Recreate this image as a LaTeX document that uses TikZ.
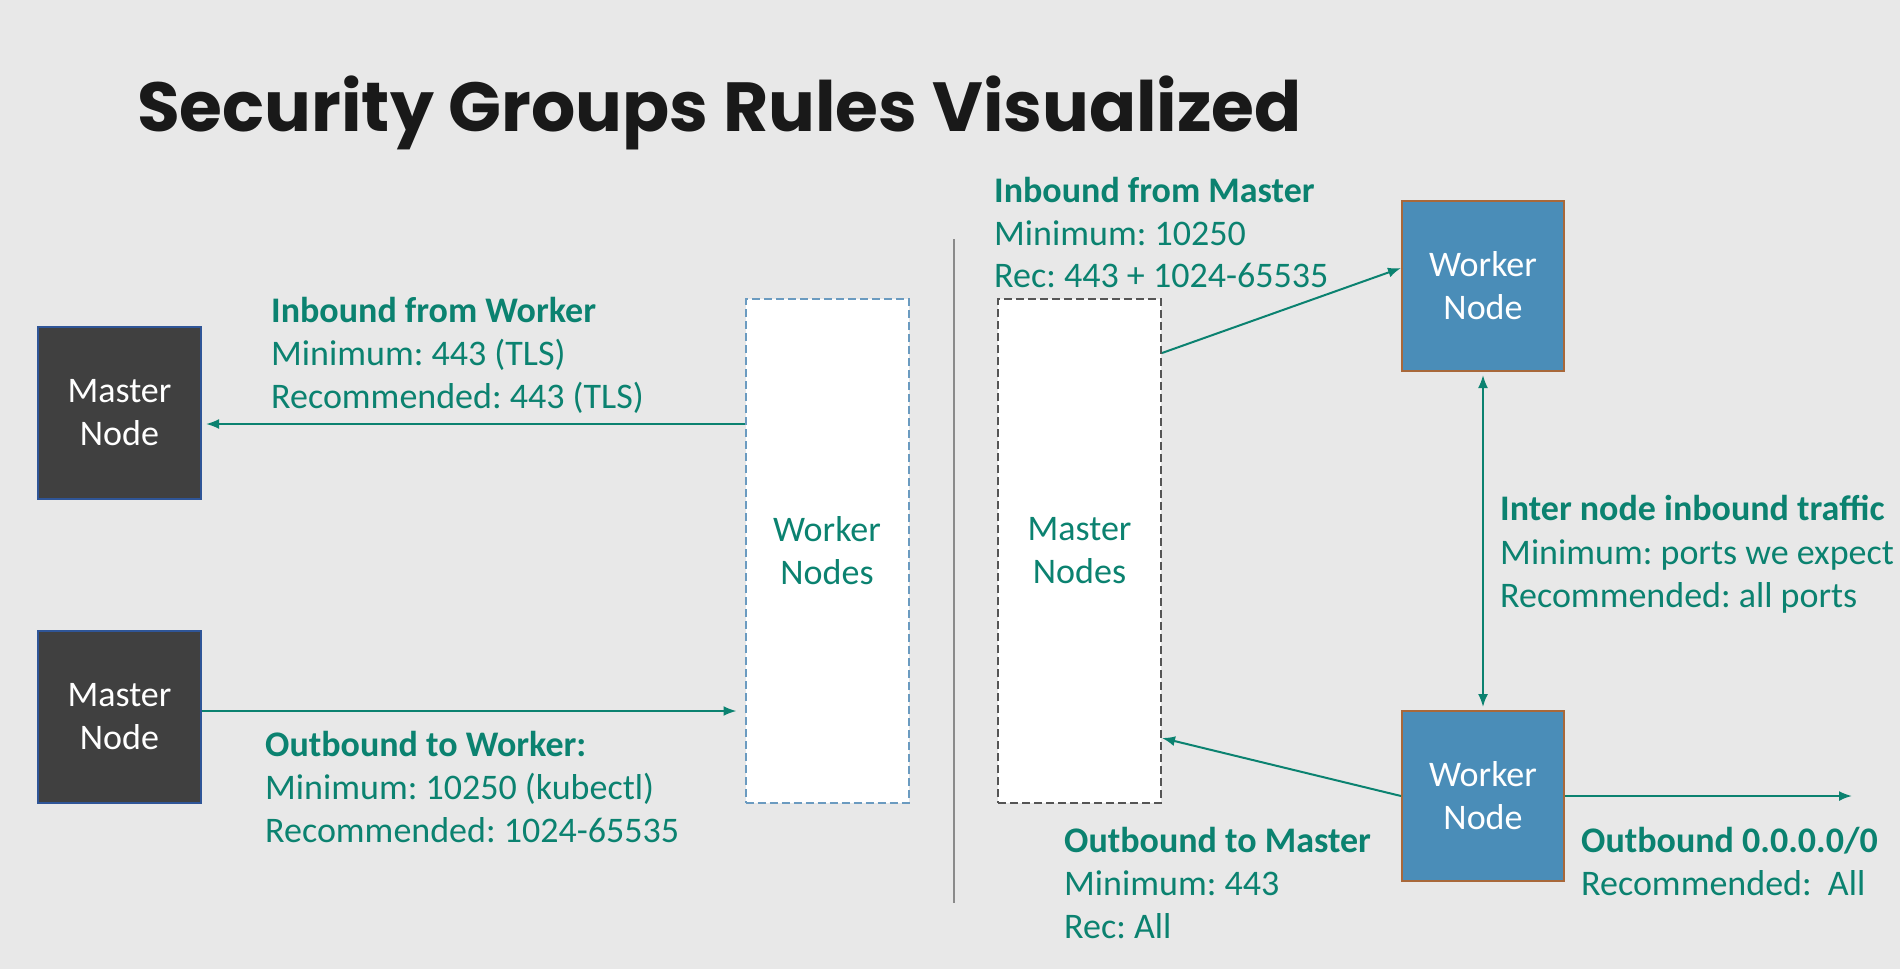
\documentclass[tikz,border=0pt]{standalone}
\usepackage{fontspec}
\setmainfont{Carlito}
\newfontfamily\titlefont{Poppins}
\usetikzlibrary{arrows.meta}
\definecolor{bg}{HTML}{E8E8E8}
\definecolor{teal}{HTML}{0B8270}
\definecolor{mfill}{HTML}{404040}
\definecolor{mborder}{HTML}{2F5597}
\definecolor{wfill}{HTML}{4A8DB8}
\definecolor{wborder}{HTML}{A8683A}
\definecolor{wdash}{HTML}{6B9BC0}
\definecolor{mdash}{HTML}{555555}
\definecolor{sep}{HTML}{8A8A8A}
\frenchspacing
\begin{document}
\begin{tikzpicture}[x=1pt,y=-1pt,
  lbl/.style={anchor=base west,inner sep=0pt,text=teal,font=\fontsize{36}{43}\selectfont},
  hdr/.style={lbl,font=\fontsize{36}{43}\selectfont\bfseries},
  masterbox/.style={draw=mborder,line width=2pt,fill=mfill,text=white,align=center,
    minimum width=163pt,minimum height=172pt,inner sep=0pt,font=\fontsize{36}{43}\selectfont},
  workerbox/.style={draw=wborder,line width=2pt,fill=wfill,text=white,align=center,
    minimum width=162pt,minimum height=170pt,inner sep=0pt,font=\fontsize{36}{43}\selectfont},
  groupbox/.style={fill=white,line width=2pt,dash pattern=on 8pt off 4pt,text=teal,align=center,
    minimum width=163pt,minimum height=504pt,inner sep=0pt,font=\fontsize{36}{43}\selectfont},
  arr/.style={draw=teal,line width=2pt,-{Latex[length=13pt,width=10pt]}},
  darr/.style={draw=teal,line width=2pt,{Latex[length=13pt,width=10pt]}-{Latex[length=13pt,width=10pt]}}
]
\fill[bg] (0,0) rectangle (1900,969);
\useasboundingbox (0,0) rectangle (1900,969);

% title
\node[anchor=base west,inner sep=0pt,text=black!90,font=\titlefont\bfseries\fontsize{69.5}{80}\selectfont] (title) at (137,131) {Security Groups Rules Visualized};

% separator
\draw[sep,line width=1.5pt] (954,239) -- (954,903);

% boxes
\node[masterbox] (m1) at (119.5,413) {Master\\Node};
\node[masterbox] (m2) at (119.5,717) {Master\\Node};
\node[groupbox,draw=wdash] (wn) at (827,551) {Worker\\Nodes};
\node[groupbox,draw=mdash] (mn) at (1079.5,551) {Master\\Nodes};
\node[workerbox] (wt) at (1483,286) {Worker\\Node};
\node[workerbox] (wb) at (1483,796) {Worker\\Node};
\coordinate (out) at (1852,796);

% connectors
\draw[arr,shorten >=4pt] (wn.west |- 0,424) -- (m1.east |- 0,424);
\draw[arr,shorten >=8pt] (m2.east |- 0,711) -- (wn.west |- 0,711);
\draw[arr] (mn.east |- 0,353) -- (wt.west |- 0,268);
\draw[darr,shorten <=3pt,shorten >=3pt] (wt.south) -- (wb.north);
\draw[arr] (wb.west) -- (mn.east |- 0,738);
\draw[arr] (wb.east) -- (out);

% labels
\node[hdr] (iw1) at (271,322) {Inbound from Worker};
\node[lbl] (iw2) at (271,365) {Minimum: 443 (TLS)};
\node[lbl] (iw3) at (271,408) {Recommended: 443 (TLS)};

\node[hdr] (ow1) at (265,756) {Outbound to Worker:};
\node[lbl] (ow2) at (265,799) {Minimum: 10250 (kubectl)};
\node[lbl] (ow3) at (265,842) {Recommended: 1024-65535};

\node[hdr] (im1) at (994,202) {Inbound from Master};
\node[lbl] (im2) at (994,245) {Minimum: 10250};
\node[lbl] (im3) at (994,287) {Rec: 443 + 1024-65535};

\node[hdr] (in1) at (1500,520) {Inter node inbound traffic};
\node[lbl] (in2) at (1500,564) {Minimum: ports we expect};
\node[lbl] (in3) at (1500,607) {Recommended: all ports};

\node[hdr] (om1) at (1064,852) {Outbound to Master};
\node[lbl] (om2) at (1064,895) {Minimum: 443};
\node[lbl] (om3) at (1064,938) {Rec: All};

\node[hdr] (oz1) at (1581,852) {Outbound 0.0.0.0/0};
\node[lbl] (oz2) at (1581,895) {Recommended:\ \ All};
\end{tikzpicture}
\end{document}
